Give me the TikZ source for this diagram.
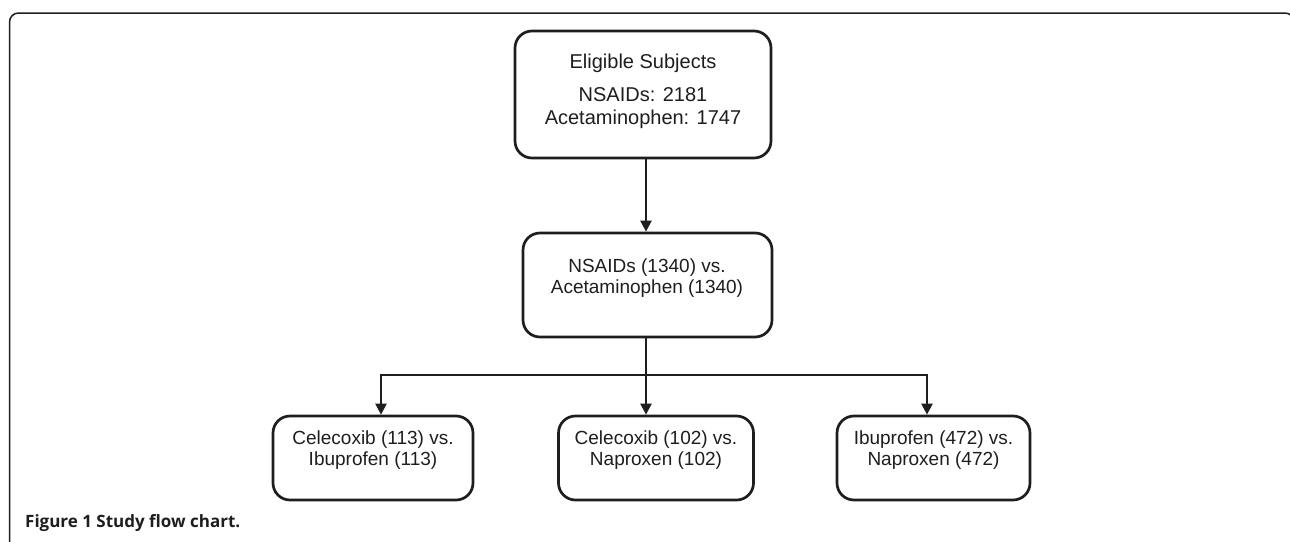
\documentclass[tikz,border=0pt]{standalone}
\usepackage{fontspec}
\setmainfont{Liberation Sans}
\newfontfamily\capfont{Open Sans}
\usetikzlibrary{arrows.meta}
\definecolor{ink}{HTML}{1E1E1E}
\begin{document}
\begin{tikzpicture}[x=1pt,y=-1pt,
  box/.style={draw=ink, line width=2.7pt, rounded corners=17pt, inner sep=0pt},
  lbl/.style={align=center, text=ink, inner sep=0pt, font=\fontsize{19}{21.5}\selectfont},
  link/.style={draw=ink, line width=2.3pt},
  arr/.style={link, -{Triangle[length=11pt,width=11pt]}}]
\useasboundingbox (0,0) rectangle (1290,541);
\clip (0,0) rectangle (1290,541);
\fill[white] (0,0) rectangle (1290,541);
% outer frame
\draw[draw=ink, line width=1.5pt, rounded corners=9pt] (9.5,13) rectangle (1294,600);
% boxes
\node[box, minimum width=256pt, minimum height=127pt] (top) at (643,94.5) {};
\node[box, minimum width=249pt, minimum height=104pt] (mid) at (647.5,285) {};
\node[box, minimum width=200pt, minimum height=84pt] (bl) at (373,458) {};
\node[box, minimum width=195pt, minimum height=84pt] (bm) at (656,458) {};
\node[box, minimum width=193pt, minimum height=84pt] (br) at (933.5,458) {};
% texts
\node[lbl, font=\fontsize{20}{22.5}\selectfont] (topt) at (643,91) {Eligible Subjects\\[11pt]NSAIDs: 2181\\Acetaminophen: 1747};
\node[lbl] (midt) at (647,278) {NSAIDs (1340) vs.\\Acetaminophen (1340)};
\node[lbl] (blt) at (373,450) {Celecoxib (113) vs.\\Ibuprofen (113)};
\node[lbl] (bmt) at (656,450) {Celecoxib (102) vs.\\Naproxen (102)};
\node[lbl] (brt) at (933.5,450) {Ibuprofen (472) vs.\\Naproxen (472)};
% connectors
\coordinate (j) at (646,375);
\draw[arr] ([xshift=3pt]top.south) -- ([xshift=-1.5pt]mid.north);
\draw[link] ([xshift=-1.5pt]mid.south) -- (j);
\draw[arr] (j) -- ([xshift=-10pt]bm.north);
\draw[arr] (j) -| ([xshift=8pt]bl.north);
\draw[arr] (j) -| ([xshift=-6.5pt]br.north);
% caption
\node[anchor=base west, inner sep=0pt, text=ink, font=\capfont\bfseries\fontsize{17}{19}\selectfont] (cap) at (25,527) {Figure 1 Study flow chart.};
\end{tikzpicture}
\end{document}
